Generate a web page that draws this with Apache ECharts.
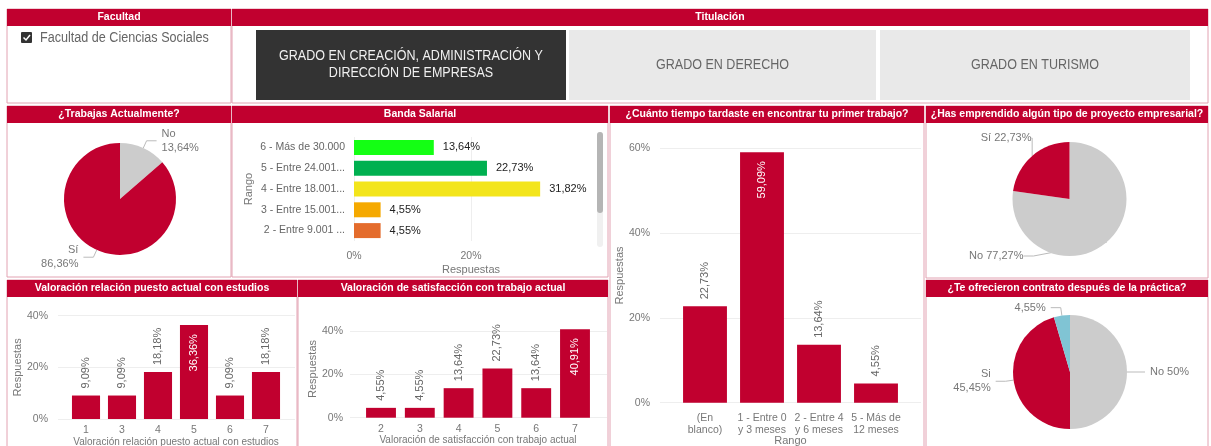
<!DOCTYPE html>
<html>
<head>
<meta charset="utf-8">
<script src="https://cdn.jsdelivr.net/npm/echarts@6/dist/echarts.min.js"></script>
<style>
html, body { margin: 0; padding: 0; background: #fff; }
#chart { width: 1211px; height: 446px; }
</style>
</head>
<body>
<div id="chart"></div>
<script>
// ---- datos ----
const facultades = ['Facultad de Ciencias Sociales'];
const titulaciones = ['GRADO EN CREACIÓN, ADMINISTRACIÓN Y\nDIRECCIÓN DE EMPRESAS', 'GRADO EN DERECHO', 'GRADO EN TURISMO'];

const trabajasNombres = ['No', 'Sí'];
const trabajasValores = [13.64, 86.36];

const bandaRangos = ['6 - Más de 30.000', '5 - Entre 24.001...', '4 - Entre 18.001...', '3 - Entre 15.001...', '2 - Entre 9.001 ...'];
const bandaValores = [13.64, 22.73, 31.82, 4.55, 4.55];

const tiempoRangos = ['(En\nblanco)', '1 - Entre 0\ny 3 meses', '2 - Entre 4\ny 6 meses', '5 - Más de\n12 meses'];
const tiempoValores = [22.73, 59.09, 13.64, 4.55];

const emprendeNombres = ['No', 'Sí'];
const emprendeValores = [77.27, 22.73];

const relacionNotas = ['1', '3', '4', '5', '6', '7'];
const relacionValores = [9.09, 9.09, 18.18, 36.36, 9.09, 18.18];

const satisfNotas = ['2', '3', '4', '5', '6', '7'];
const satisfValores = [4.55, 4.55, 13.64, 22.73, 13.64, 40.91];

const contratoNombres = ['No', 'Si', ''];
const contratoValores = [50, 45.45, 4.55];

// ---- estilos ----
const FONT = "'Liberation Sans', Arial, sans-serif";
const ROJO = '#c1002f';
const GRIS = '#cccccc';
const bandaColores = ['#14ff14', '#00b050', '#f3e51c', '#f5a900', '#e46c2c'];
const contratoColores = [GRIS, ROJO, '#80c4d4'];

const fmtPct = v => String(+v.toFixed(2)).replace('.', ',') + '%';

const chart = echarts.init(document.getElementById('chart'), null, { renderer: 'canvas' });

// paneles: titulo, x, y, w, h
const paneles = [
  ['Facultad', 7, 9, 224, 94],
  ['Titulación', 232, 9, 976, 94],
  ['¿Trabajas Actualmente?', 7, 106, 224, 171],
  ['Banda Salarial', 232, 106, 376, 171],
  ['¿Cuánto tiempo tardaste en encontrar tu primer trabajo?', 610, 106, 314, 345],
  ['¿Has emprendido algún tipo de proyecto empresarial?', 926, 106, 282, 172],
  ['Valoración relación puesto actual con estudios', 7, 280, 290, 170],
  ['Valoración de satisfacción con trabajo actual', 298, 280, 310, 170],
  ['¿Te ofrecieron contrato después de la práctica?', 926, 280, 282, 170]
];

const graphic = [];
paneles.forEach(([t, x, y, w, h]) => {
  graphic.push({ type: 'rect', shape: { x: x, y: y, width: w, height: h }, style: { fill: '#fff', stroke: '#e2a2b2', lineWidth: 1 }, z: -10 });
  graphic.push({ type: 'rect', shape: { x: x, y: y, width: w, height: 17 }, style: { fill: ROJO }, z: -9 });
  graphic.push({ type: 'text', x: x + w / 2, y: y + 8.5, style: { text: t, fill: '#fff', fontSize: 10.5, fontWeight: 'bold', fontFamily: FONT, align: 'center', verticalAlign: 'middle' }, z: -8 });
});

// filtro facultad
graphic.push({ type: 'rect', shape: { x: 21, y: 32, width: 11, height: 11, r: 1 }, style: { fill: '#333' } });
graphic.push({ type: 'polyline', shape: { points: [[23.5, 37.5], [26, 40], [30, 35]] }, style: { stroke: '#fff', lineWidth: 1.5, fill: null } });
graphic.push({ type: 'text', x: 40, y: 38, scaleX: 0.9, style: { text: facultades[0], fill: '#666', fontSize: 14, fontFamily: FONT, verticalAlign: 'middle' } });

// botones titulacion
const botones = [[256, 310], [569, 307], [880, 310]];
titulaciones.forEach((t, i) => {
  const [bx, bw] = botones[i];
  const activo = i === 0;
  graphic.push({ type: 'rect', shape: { x: bx, y: 30, width: bw, height: 70 }, style: { fill: activo ? '#333333' : '#e9e9e9' } });
  graphic.push({ type: 'text', x: bx + bw / 2, y: 65, scaleX: 0.895, style: { text: t, fill: activo ? '#f0f0f0' : '#666', fontSize: 14, lineHeight: 17, fontFamily: FONT, align: 'center', verticalAlign: 'middle' } });
});

// barra de desplazamiento (banda salarial)
graphic.push({ type: 'rect', shape: { x: 597, y: 132, width: 6, height: 115, r: 3 }, style: { fill: '#f0f0f0' } });
graphic.push({ type: 'rect', shape: { x: 597, y: 132, width: 6, height: 81, r: 3 }, style: { fill: '#b5b5b5' } });

const ejeTexto = { color: '#777', fontSize: 10.5, fontFamily: FONT };
const nombreEje = { color: '#777', fontSize: 11, fontFamily: FONT };
const lineaGuia = { color: '#eeeeee' };

const grids = [];
const xAxes = [];
const yAxes = [];
const series = [];

// banda salarial (barras horizontales)
grids.push({ left: 354, top: 137, width: 234, height: 104, outerBoundsMode: 'none' });
xAxes.push({
  gridIndex: 0, type: 'value', min: 0, max: 40, interval: 20,
  axisLine: { show: false }, axisTick: { show: false },
  axisLabel: Object.assign({ formatter: v => v + '%', margin: 10, showMaxLabel: false }, ejeTexto),
  splitLine: { lineStyle: lineaGuia, showMaxLine: false },
  name: 'Respuestas', nameLocation: 'middle', nameGap: 23, nameTextStyle: nombreEje
});
yAxes.push({
  gridIndex: 0, type: 'category', inverse: true, data: bandaRangos,
  axisLine: { show: false }, axisTick: { show: false },
  axisLabel: { color: '#666', fontSize: 10.5, fontFamily: FONT, margin: 9 },
  name: 'Rango', nameLocation: 'middle', nameGap: 100, nameTextStyle: nombreEje
});
series.push({
  type: 'bar', xAxisIndex: 0, yAxisIndex: 0, barWidth: '72%',
  data: bandaValores.map((v, i) => ({ value: v, itemStyle: { color: bandaColores[i] } })),
  label: { show: true, position: 'right', distance: 9, color: '#222', fontSize: 11, fontFamily: FONT, formatter: p => fmtPct(p.value) }
});

// columnas verticales: una rejilla ancha para guias y otra interior para las barras
function columnas(cats, vals, caja, maxEje, nombreX) {
  const g = grids.length;
  grids.push({ left: caja.left, top: caja.top, width: caja.width, height: caja.height, outerBoundsMode: 'none' });
  grids.push({ left: caja.innerLeft, top: caja.top, width: caja.innerWidth, height: caja.height, outerBoundsMode: 'none' });
  const redondo = maxEje % 20 === 0;
  xAxes.push({ gridIndex: g, type: 'category', data: cats, show: false });
  yAxes.push({
    gridIndex: g, type: 'value', min: 0, max: maxEje, interval: 20,
    axisLine: { show: false }, axisTick: { show: false },
    axisLabel: Object.assign({ formatter: v => v + '%', margin: caja.yMargin, showMaxLabel: redondo }, ejeTexto),
    splitLine: { lineStyle: lineaGuia, showMaxLine: redondo },
    name: 'Respuestas', nameLocation: 'middle', nameGap: caja.yNameGap, nameTextStyle: nombreEje
  });
  xAxes.push({
    gridIndex: g + 1, type: 'category', data: cats,
    axisLine: { show: false }, axisTick: { show: false },
    axisLabel: Object.assign({ interval: 0, margin: caja.xMargin, lineHeight: 12 }, ejeTexto),
    name: nombreX, nameLocation: 'middle', nameGap: caja.xNameGap, nameMoveOverlap: caja.moverNombre,
    nameTextStyle: Object.assign({}, nombreEje, { fontSize: caja.xNameSize })
  });
  yAxes.push({ gridIndex: g + 1, type: 'value', min: 0, max: maxEje, show: false });
  series.push({
    type: 'bar', xAxisIndex: xAxes.length - 1, yAxisIndex: yAxes.length - 1,
    barWidth: caja.barWidth, itemStyle: { color: ROJO },
    data: vals.map(v => v / maxEje > 0.8
      ? { value: v, label: { position: 'insideTop', align: 'right', color: '#fff', distance: 9 } }
      : v),
    label: {
      show: true, position: 'top', rotate: 90, align: 'left', verticalAlign: 'middle', distance: 7,
      color: '#666', fontSize: 11, fontFamily: FONT, formatter: p => fmtPct(p.value)
    }
  });
}

columnas(tiempoRangos, tiempoValores,
  { left: 660, width: 261, innerLeft: 676.5, innerWidth: 228, top: 148.3, height: 254.4,
    yMargin: 10, yNameGap: 33, xMargin: 9, xNameGap: 33, xNameSize: 11, moverNombre: false, barWidth: '77%' }, 60, 'Rango');
columnas(relacionNotas, relacionValores,
  { left: 58, width: 237, innerLeft: 68, innerWidth: 216, top: 315.7, height: 103.3,
    yMargin: 10, yNameGap: 33, xMargin: 5, xNameGap: 16, xNameSize: 10, moverNombre: true, barWidth: '78%' }, 40, 'Valoración relación puesto actual con estudios');
columnas(satisfNotas, satisfValores,
  { left: 350, width: 257, innerLeft: 361.6, innerWidth: 232.8, top: 320.3, height: 97.4,
    yMargin: 7, yNameGap: 31, xMargin: 5, xNameGap: 15, xNameSize: 10, moverNombre: true, barWidth: '77%' }, 45, 'Valoración de satisfacción con trabajo actual');

// tartas
const etiquetaTarta = { color: '#777', fontSize: 11, fontFamily: FONT, lineHeight: 14 };
const lineaTarta = { length: 8, length2: 10, lineStyle: { color: '#bbb', width: 1 } };

series.push({
  type: 'pie', center: [120, 199], radius: 56, startAngle: 90,
  data: trabajasNombres.map((n, i) => ({ name: n, value: trabajasValores[i], itemStyle: { color: [GRIS, ROJO][i] } })),
  label: Object.assign({ formatter: p => p.name + '\n' + fmtPct(p.value) }, etiquetaTarta),
  labelLine: lineaTarta
});

series.push({
  type: 'pie', center: [1069.5, 199], radius: 57, startAngle: 90,
  data: emprendeNombres.map((n, i) => ({ name: n, value: emprendeValores[i], itemStyle: { color: [GRIS, ROJO][i] } })),
  label: Object.assign({ formatter: p => p.name + ' ' + fmtPct(p.value) }, etiquetaTarta),
  labelLine: lineaTarta,
  // Power BI coloca ambas etiquetas a la izquierda de la tarta
  labelLayout: p => p.dataIndex === 0
    ? { x: p.rect.x + p.rect.width / 2 - 46, y: p.rect.y + p.rect.height, align: 'right', verticalAlign: 'middle' }
    : { x: p.rect.x + p.rect.width - 38, y: p.rect.y - 4, align: 'right', verticalAlign: 'middle' }
});

series.push({
  type: 'pie', center: [1070, 372], radius: 57, startAngle: 90,
  data: contratoNombres.map((n, i) => ({ name: n, value: contratoValores[i], itemStyle: { color: contratoColores[i] } })),
  label: Object.assign({ formatter: p => p.name ? p.name + (p.dataIndex === 1 ? '\n' : ' ') + fmtPct(p.value) : fmtPct(p.value) }, etiquetaTarta),
  labelLine: lineaTarta
});

series.forEach(s => { s.emphasis = { disabled: true }; s.silent = true; });

chart.setOption({
  animation: false,
  textStyle: { fontFamily: FONT },
  graphic: graphic,
  grid: grids,
  xAxis: xAxes,
  yAxis: yAxes,
  series: series
});
</script>
</body>
</html>
